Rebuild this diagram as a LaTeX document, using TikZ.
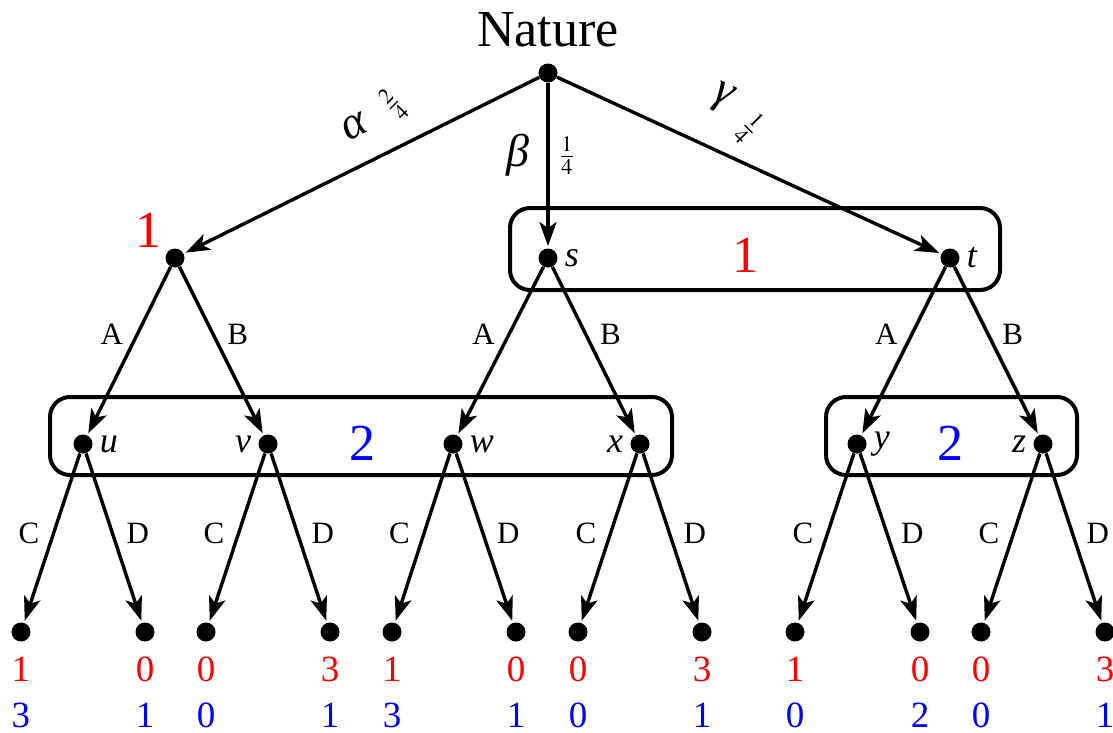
\documentclass[tikz,border=0pt]{standalone}
\usepackage{mathptmx}
\usepackage{fontspec}
\setmainfont{Liberation Serif}
\usetikzlibrary{arrows.meta}

\begin{document}
\begin{tikzpicture}[
    x=0.5pt, y=-0.5pt,
    >={Stealth[length=12pt, width=8.5pt, inset=3pt]},
    dot/.style={circle, fill, inner sep=0pt, minimum size=9.5pt},
    move/.style={->, line width=1.7pt, shorten >=1pt},
    act/.style={font=\fontsize{15.5}{18}\selectfont},
    greek/.style={font=\fontsize{23}{26}\selectfont\itshape, inner sep=1pt},
    prob/.style={font=\fontsize{15}{18}\selectfont, inner sep=0pt},
    player/.style={font=\fontsize{26}{30}\selectfont},
    infoset/.style={draw, line width=2pt, rounded corners=10pt},
    nlab/.style={font=\fontsize{18}{20}\selectfont\itshape},
    pay/.style={align=center, font=\fontsize{18.5}{23}\selectfont},
  ]
  \useasboundingbox (0,0) rectangle (1113,733);

  % Nature
  \node[dot] (nat) at (548,73) {};
  \node[player] (natlab) at (548,30) {Nature};

  % Player 1
  \node[dot] (p1) at (175,258) {};
  \node[dot, label={[nlab]right:s}] (s) at (548,258) {};
  \node[dot, label={[nlab]right:t}] (t) at (950,258) {};
  \node[player, text=red] (one) at (148,230) {1};
  \draw[infoset] (510,208) rectangle (1000,290);
  \node[player, text=red] (oneset) at (745,255) {1};

  % Player 2
  \node[dot, label={[nlab]right:u}] (u) at (83,444) {};
  \node[dot, label={[nlab]left:v}] (v) at (268,444) {};
  \node[dot, label={[nlab]right:w}] (w) at (453,444) {};
  \node[dot, label={[nlab]left:x}] (x) at (640,444) {};
  \node[dot, label={[nlab]right:y}] (y) at (857,444) {};
  \node[dot, label={[nlab]left:z}] (z) at (1043,444) {};
  \draw[infoset] (50,397) rectangle (672,475);
  \draw[infoset] (826,397) rectangle (1077,475);
  \node[player, text=blue] (twoa) at (362,443) {2};
  \node[player, text=blue] (twob) at (950,443) {2};

  % Leaves
  \node[dot] (l1) at (21,632) {};
  \node[dot] (l2) at (145,632) {};
  \node[dot] (l3) at (206,632) {};
  \node[dot] (l4) at (330,632) {};
  \node[dot] (l5) at (392,632) {};
  \node[dot] (l6) at (516,632) {};
  \node[dot] (l7) at (578,632) {};
  \node[dot] (l8) at (702,632) {};
  \node[dot] (l9) at (795,632) {};
  \node[dot] (l10) at (920,632) {};
  \node[dot] (l11) at (981,632) {};
  \node[dot] (l12) at (1105,632) {};

  % Payoffs
  \node[pay] (pay1) at (21,692) {\textcolor{red}{1}\\\textcolor{blue}{3}};
  \node[pay] (pay2) at (145,692) {\textcolor{red}{0}\\\textcolor{blue}{1}};
  \node[pay] (pay3) at (206,692) {\textcolor{red}{0}\\\textcolor{blue}{0}};
  \node[pay] (pay4) at (330,692) {\textcolor{red}{3}\\\textcolor{blue}{1}};
  \node[pay] (pay5) at (392,692) {\textcolor{red}{1}\\\textcolor{blue}{3}};
  \node[pay] (pay6) at (516,692) {\textcolor{red}{0}\\\textcolor{blue}{1}};
  \node[pay] (pay7) at (578,692) {\textcolor{red}{0}\\\textcolor{blue}{0}};
  \node[pay] (pay8) at (702,692) {\textcolor{red}{3}\\\textcolor{blue}{1}};
  \node[pay] (pay9) at (795,692) {\textcolor{red}{1}\\\textcolor{blue}{0}};
  \node[pay] (pay10) at (920,692) {\textcolor{red}{0}\\\textcolor{blue}{2}};
  \node[pay] (pay11) at (981,692) {\textcolor{red}{0}\\\textcolor{blue}{0}};
  \node[pay] (pay12) at (1105,692) {\textcolor{red}{3}\\\textcolor{blue}{1}};

  % Chance moves
  \draw[move] (nat) -- node[pos=0.52, yshift=21pt, rotate=26.4, greek] {α}
    node[pos=0.41, yshift=22.5pt, rotate=45, prob] {$\frac{2}{4}$} (p1);
  \draw[move] (nat) -- node[pos=0.44, xshift=-15pt, greek] {β}
    node[pos=0.44, xshift=9.5pt, prob] {$\frac{1}{4}$} (s);
  \draw[move] (nat) -- node[pos=0.43, yshift=27.5pt, rotate=-24.7, greek] {γ}
    node[pos=0.50, yshift=18.5pt, rotate=-45, prob] {$\frac{1}{4}$} (t);

  % Player 1 moves
  \draw[move] (p1) -- node[pos=0.4, left=3pt, act] {A} (u);
  \draw[move] (p1) -- node[pos=0.4, right=3pt, act] {B} (v);
  \draw[move] (s) -- node[pos=0.4, left=3pt, act] {A} (w);
  \draw[move] (s) -- node[pos=0.4, right=3pt, act] {B} (x);
  \draw[move] (t) -- node[pos=0.4, left=3pt, act] {A} (y);
  \draw[move] (t) -- node[pos=0.4, right=3pt, act] {B} (z);

  % Player 2 moves
  \draw[move] (u) -- node[pos=0.47, left=3pt, act] {C} (l1);
  \draw[move] (u) -- node[pos=0.47, right=3pt, act] {D} (l2);
  \draw[move] (v) -- node[pos=0.47, left=3pt, act] {C} (l3);
  \draw[move] (v) -- node[pos=0.47, right=3pt, act] {D} (l4);
  \draw[move] (w) -- node[pos=0.47, left=3pt, act] {C} (l5);
  \draw[move] (w) -- node[pos=0.47, right=3pt, act] {D} (l6);
  \draw[move] (x) -- node[pos=0.47, left=3pt, act] {C} (l7);
  \draw[move] (x) -- node[pos=0.47, right=3pt, act] {D} (l8);
  \draw[move] (y) -- node[pos=0.47, left=3pt, act] {C} (l9);
  \draw[move] (y) -- node[pos=0.47, right=3pt, act] {D} (l10);
  \draw[move] (z) -- node[pos=0.47, left=3pt, act] {C} (l11);
  \draw[move] (z) -- node[pos=0.47, right=3pt, act] {D} (l12);
\end{tikzpicture}
\end{document}
